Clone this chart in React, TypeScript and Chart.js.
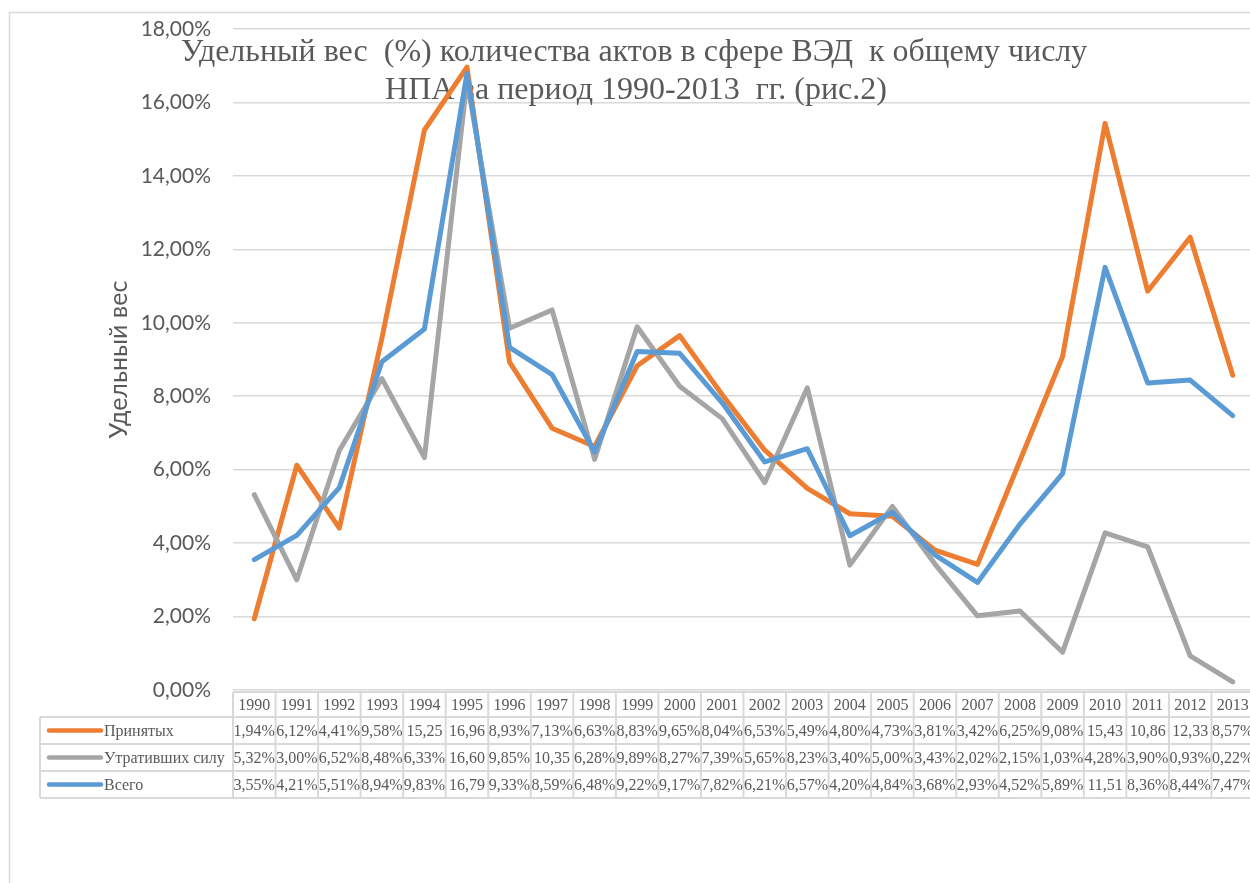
import React, { useEffect, useRef } from 'react';
import { Chart, registerables } from 'chart.js';

Chart.register(...registerables);

const years = ['1990', '1991', '1992', '1993', '1994', '1995', '1996', '1997', '1998', '1999', '2000', '2001', '2002', '2003', '2004', '2005', '2006', '2007', '2008', '2009', '2010', '2011', '2012', '2013'];
const accepted = [1.94, 6.12, 4.41, 9.58, 15.25, 16.96, 8.93, 7.13, 6.63, 8.83, 9.65, 8.04, 6.53, 5.49, 4.80, 4.73, 3.81, 3.42, 6.25, 9.08, 15.43, 10.86, 12.33, 8.57];
const repealed = [5.32, 3.00, 6.52, 8.48, 6.33, 16.60, 9.85, 10.35, 6.28, 9.89, 8.27, 7.39, 5.65, 8.23, 3.40, 5.00, 3.43, 2.02, 2.15, 1.03, 4.28, 3.90, 0.93, 0.22];
const total = [3.55, 4.21, 5.51, 8.94, 9.83, 16.79, 9.33, 8.59, 6.48, 9.22, 9.17, 7.82, 6.21, 6.57, 4.20, 4.84, 3.68, 2.93, 4.52, 5.89, 11.51, 8.36, 8.44, 7.47];
const seriesNames = ['Принятых', 'Утративших силу', 'Всего'];
const seriesColors = ['#ED7D31', '#A5A5A5', '#5B9BD5'];
const yMin = 0;
const yMax = 18;
const yStep = 2;
const titleLines = ['Удельный вес  (%) количества актов в сфере ВЭД  к общему числу', 'НПА за период 1990-2013  гг. (рис.2)'];
const yAxisTitle = 'Удельный вес';

const seriesValues = [accepted, repealed, total];
const TEXT = '#595959';
const BORDER = '#d9d9d9';

const fmt = (v: number) => v.toFixed(2).replace('.', ',') + '%';

const framePlugin = {
  id: 'frame',
  beforeDraw(chart: any) {
    const ctx = chart.ctx;
    ctx.save();
    ctx.fillStyle = '#ffffff';
    ctx.fillRect(0, 0, chart.width, chart.height);
    ctx.strokeStyle = BORDER;
    ctx.lineWidth = 1.5;
    ctx.beginPath();
    ctx.moveTo(9.5, chart.height + 5);
    ctx.lineTo(9.5, 12.5);
    ctx.lineTo(chart.width + 5, 12.5);
    ctx.stroke();
    ctx.restore();
  },
};

const titlePlugin = {
  id: 'overlayTitle',
  beforeDatasetsDraw(chart: any) {
    const ctx = chart.ctx;
    ctx.save();
    ctx.fillStyle = TEXT;
    ctx.font = '32px "Liberation Serif", "Times New Roman", serif';
    ctx.textAlign = 'center';
    ctx.textBaseline = 'alphabetic';
    ctx.fillText(titleLines[0], 634, 61);
    ctx.fillText(titleLines[1], 636, 99);
    ctx.restore();
  },
};

const tablePlugin = {
  id: 'dataTable',
  afterDraw(chart: any) {
    const ctx = chart.ctx;
    const area = chart.chartArea;
    const xs = chart.scales.x;
    const n = years.length;
    const colW = (area.right - area.left) / n;
    const top = area.bottom + 2;
    const headerH = 25;
    const rowH = 27;
    const bottom = top + headerH + rowH * 3;
    const legendLeft = 40;
    ctx.save();
    ctx.strokeStyle = BORDER;
    ctx.lineWidth = 2;
    const line = (x1: number, y1: number, x2: number, y2: number) => {
      ctx.beginPath();
      ctx.moveTo(x1, y1);
      ctx.lineTo(x2, y2);
      ctx.stroke();
    };
    line(area.left, top, area.right, top);
    for (let r = 0; r <= 3; r++) {
      const y = top + headerH + r * rowH;
      line(legendLeft, y, area.right, y);
    }
    line(legendLeft, top + headerH, legendLeft, bottom);
    for (let i = 0; i <= n; i++) {
      const x = i < n ? xs.getPixelForValue(i) - colW / 2 : xs.getPixelForValue(n - 1) + colW / 2;
      line(x, top, x, bottom);
    }
    ctx.fillStyle = TEXT;
    ctx.font = '16px "Liberation Serif", "Times New Roman", serif';
    ctx.textBaseline = 'middle';
    ctx.textAlign = 'center';
    for (let i = 0; i < n; i++) {
      const cx = xs.getPixelForValue(i);
      ctx.fillText(years[i], cx, top + headerH / 2 + 1);
      for (let s = 0; s < 3; s++) {
        let t = fmt(seriesValues[s][i]);
        if (ctx.measureText(t).width > colW + 2) t = t.slice(0, -1);
        ctx.fillText(t, cx, top + headerH + rowH * s + rowH / 2 + 1);
      }
    }
    ctx.textAlign = 'left';
    for (let s = 0; s < 3; s++) {
      const cy = top + headerH + rowH * s + rowH / 2;
      ctx.strokeStyle = seriesColors[s];
      ctx.lineWidth = 4.5;
      ctx.lineCap = 'round';
      line(49, cy, 101, cy);
      ctx.fillText(seriesNames[s], 104, cy + 1);
    }
    ctx.restore();
  },
};

export default function App() {
  const ref = useRef<HTMLCanvasElement | null>(null);
  useEffect(() => {
    if (!ref.current) return;
    const chart = new Chart(ref.current, {
      type: 'line',
      data: {
        labels: years,
        datasets: seriesNames.map((name, s) => ({
          label: name,
          data: seriesValues[s],
          borderColor: seriesColors[s],
          backgroundColor: seriesColors[s],
          borderWidth: 5,
          pointRadius: 0,
          tension: 0,
          borderJoinStyle: 'round' as const,
          borderCapStyle: 'round' as const,
          order: 3 - s,
        })),
      },
      options: {
        responsive: false,
        animation: false,
        layout: { padding: { left: 100, right: 0, top: 29, bottom: 0 } },
        plugins: {
          legend: { display: false },
          tooltip: { enabled: false },
          title: { display: false },
        },
        scales: {
          x: {
            offset: true,
            grid: { display: false },
            border: { display: false },
            ticks: { display: false },
            afterFit: (s: any) => { s.height = 193; },
          },
          y: {
            min: yMin,
            max: yMax,
            grid: { color: BORDER, lineWidth: 1.5, drawTicks: false },
            border: { display: false },
            ticks: {
              stepSize: yStep,
              padding: 22,
              color: TEXT,
              font: { family: 'Lato, "Open Sans", sans-serif', size: 21 },
              callback: (v: any) => Number(v).toFixed(2).replace('.', ',') + '%',
            },
            title: {
              display: true,
              text: yAxisTitle,
              color: TEXT,
              font: { family: 'Lato, "Open Sans", sans-serif', size: 25 },
              padding: { top: 4, bottom: 0 },
            },
            afterFit: (s: any) => {
              s.width = 133;
              s.paddingTop = 0;
              s.paddingBottom = 0;
            },
          },
        },
      },
      plugins: [framePlugin, titlePlugin, tablePlugin],
    });
    return () => chart.destroy();
  }, []);
  return (
    <div style={{ position: 'fixed', left: 0, top: 0, width: 1250, height: 883, overflow: 'hidden', background: '#fff' }}>
      <canvas ref={ref} width={1254} height={883} style={{ display: 'block' }} />
    </div>
  );
}
